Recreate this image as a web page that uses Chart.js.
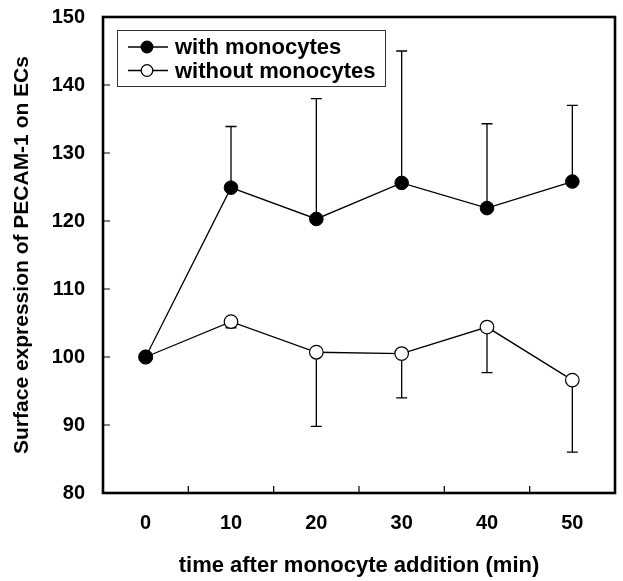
<!DOCTYPE html>
<html>
<head>
<meta charset="utf-8">
<script src="https://cdn.jsdelivr.net/npm/chart.js@4"></script>
<style>
  body { margin: 0; background: #fff; }
</style>
</head>
<body>
<canvas id="chart" width="623" height="581"></canvas>
<script>
const times = ['0', '10', '20', '30', '40', '50']
const withValues = [100, 124.9, 120.3, 125.6, 121.9, 125.8]
const withErrTop = [100, 133.9, 138.0, 145.0, 134.3, 137.0]
const withoutValues = [100, 105.2, 100.7, 100.5, 104.4, 96.6]
const withoutErrBottom = [100, 104.3, 89.8, 94.0, 97.7, 86.0]
const yTicks = [80, 90, 100, 110, 120, 130, 140, 150]

const font = 'Liberation Sans, Arial, sans-serif'

// error bars, inside ticks, frame and legend
const extras = {
    id: 'extras',
    beforeDatasetsDraw (chart) {
        const ctx = chart.ctx
        const x = chart.scales.x
        const y = chart.scales.y
        const bars = [[withValues, withErrTop], [withoutValues, withoutErrBottom]]
        ctx.save()
        ctx.strokeStyle = '#000'
        ctx.lineWidth = 1.3
        bars.forEach(([vals, ends]) => {
            vals.forEach((v, i) => {
                if (ends[i] === v) return
                const px = x.getPixelForValue(i)
                const y0 = y.getPixelForValue(v)
                const y1 = y.getPixelForValue(ends[i])
                ctx.beginPath()
                ctx.moveTo(px, y0)
                ctx.lineTo(px, y1)
                ctx.moveTo(px - 5.5, y1)
                ctx.lineTo(px + 5.5, y1)
                ctx.stroke()
            })
        })
        ctx.restore()
    },
    afterDraw (chart) {
        const ctx = chart.ctx
        const a = chart.chartArea
        const x = chart.scales.x
        const y = chart.scales.y
        ctx.save()
        ctx.strokeStyle = '#000'
        ctx.lineWidth = 1.2
        ctx.beginPath()
        yTicks.forEach((t) => {
            const py = y.getPixelForValue(t)
            ctx.moveTo(a.left, py)
            ctx.lineTo(a.left + 7, py)
        })
        for (let i = 0; i < times.length - 1; i++) {
            const px = (x.getPixelForValue(i) + x.getPixelForValue(i + 1)) / 2
            ctx.moveTo(px, a.bottom)
            ctx.lineTo(px, a.bottom - 7)
        }
        ctx.stroke()

        ctx.lineWidth = 2.6
        ctx.strokeRect(a.left, a.top, a.right - a.left, a.bottom - a.top)

        // legend
        const lx = 117, ly = 30, lw = 268, lh = 56
        ctx.lineWidth = 1
        ctx.strokeStyle = '#333'
        ctx.fillStyle = '#fff'
        ctx.fillRect(lx, ly, lw, lh)
        ctx.strokeRect(lx + 0.5, ly + 0.5, lw, lh)
        ctx.font = 'bold 22px ' + font
        ctx.textBaseline = 'middle'
        chart.data.datasets.forEach((ds, i) => {
            const ry = 47 + i * 23.5
            ctx.strokeStyle = '#000'
            ctx.lineWidth = 1.3
            ctx.beginPath()
            ctx.moveTo(128, ry)
            ctx.lineTo(168, ry)
            ctx.stroke()
            ctx.beginPath()
            ctx.arc(147, ry, 5.8, 0, Math.PI * 2)
            ctx.fillStyle = ds.pointBackgroundColor
            ctx.fill()
            ctx.stroke()
            ctx.fillStyle = '#000'
            ctx.fillText(ds.label, 175, ry + 1)
        })
        ctx.restore()
    }
}

new Chart(document.getElementById('chart'), {
    type: 'line',
    data: {
        labels: times,
        datasets: [
            {
                label: 'with monocytes',
                data: withValues,
                borderColor: '#000',
                borderWidth: 1.3,
                pointRadius: 6.8,
                pointBackgroundColor: '#000',
                pointBorderColor: '#000',
                pointBorderWidth: 1
            },
            {
                label: 'without monocytes',
                data: withoutValues,
                borderColor: '#000',
                borderWidth: 1.3,
                pointRadius: 6.8,
                pointBackgroundColor: '#fff',
                pointBorderColor: '#000',
                pointBorderWidth: 1.2
            }
        ]
    },
    plugins: [extras],
    options: {
        responsive: false,
        animation: false,
        devicePixelRatio: 1,
        layout: { padding: { top: 17, right: 2, left: 0, bottom: 0 } },
        plugins: {
            legend: { display: false },
            tooltip: { enabled: false }
        },
        scales: {
            x: {
                offset: true,
                grid: { display: false },
                border: { display: false },
                ticks: {
                    color: '#000',
                    padding: 10,
                    font: { family: font, size: 20, weight: 'bold' }
                },
                title: {
                    display: true,
                    text: 'time after monocyte addition (min)',
                    color: '#000',
                    padding: { top: 12, bottom: 2 },
                    font: { family: font, size: 22, weight: 'bold' }
                },
                afterFit: (s) => {
                    s.height = 88
                    s.paddingLeft = 0
                    s.paddingRight = 0
                }
            },
            y: {
                min: 80,
                max: 150,
                grid: { display: false },
                border: { display: false },
                ticks: {
                    color: '#000',
                    stepSize: 10,
                    padding: 10,
                    font: { family: font, size: 20, weight: 'bold' }
                },
                title: {
                    display: true,
                    text: 'Surface expression of PECAM-1 on ECs',
                    color: '#000',
                    padding: { top: 10, bottom: 0 },
                    font: { family: font, size: 21, weight: 'bold' }
                },
                afterFit: (s) => {
                    s.width = 103
                    s.paddingTop = 0
                    s.paddingBottom = 0
                }
            }
        }
    }
})
</script>
</body>
</html>
